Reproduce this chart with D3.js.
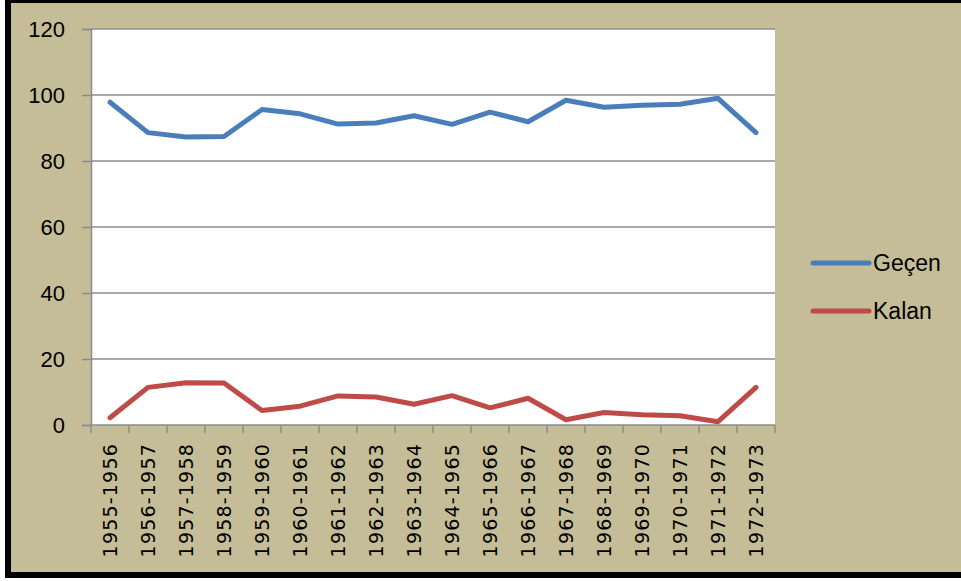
<!DOCTYPE html>
<html>
<head>
<meta charset="utf-8">
<script src="https://cdn.jsdelivr.net/npm/d3@7.9.0/dist/d3.min.js"></script>
<style>
  body { margin: 0; background: #fff; }
  svg { display: block; }
</style>
</head>
<body>
<div id="chart"></div>
<script>
const years = ['1955-1956', '1956-1957', '1957-1958', '1958-1959', '1959-1960', '1960-1961',
  '1961-1962', '1962-1963', '1963-1964', '1964-1965', '1965-1966', '1966-1967',
  '1967-1968', '1968-1969', '1969-1970', '1970-1971', '1971-1972', '1972-1973'];
const gecen = [97.8, 88.6, 87.3, 87.4, 95.6, 94.3, 91.2, 91.5, 93.7, 91.1, 94.8, 91.9, 98.4, 96.3, 96.9, 97.2, 99.0, 88.6];
const kalan = [2.2, 11.4, 12.8, 12.7, 4.4, 5.7, 8.8, 8.5, 6.3, 8.9, 5.2, 8.1, 1.6, 3.8, 3.1, 2.8, 1.0, 11.4];
const yTicks = [0, 20, 40, 60, 80, 100, 120];
const seriesNames = ['Geçen', 'Kalan'];
const colors = ['#4a7ebb', '#be4b48'];

const width = 961;
const height = 581;
const margin = { top: 29, right: 186, bottom: 156, left: 91 };

const svg = d3.select('#chart')
  .append('svg')
  .attr('width', width)
  .attr('height', height);

// frame
svg.append('rect')
  .attr('x', 5).attr('y', 0)
  .attr('width', width).attr('height', 578)
  .attr('fill', '#000');
svg.append('rect')
  .attr('x', 11).attr('y', 3)
  .attr('width', width).attr('height', 569)
  .attr('fill', '#c4bd97');

const x = d3.scaleBand()
  .domain(years)
  .range([margin.left, width - margin.right]);

const y = d3.scaleLinear()
  .domain([0, 120])
  .range([height - margin.bottom, margin.top]);

// plot area
svg.append('rect')
  .attr('x', margin.left).attr('y', margin.top)
  .attr('width', x.range()[1] - margin.left)
  .attr('height', y(0) - margin.top)
  .attr('fill', '#fff');

// gridlines
svg.append('g')
  .selectAll('line')
  .data(yTicks.filter(d => d > 0))
  .join('line')
  .attr('x1', margin.left)
  .attr('x2', x.range()[1])
  .attr('y1', d => y(d))
  .attr('y2', d => y(d))
  .attr('stroke', '#8c8c8c')
  .attr('stroke-width', 1.5);

// y axis
const yAxis = svg.append('g')
  .attr('transform', `translate(${margin.left},0)`)
  .call(d3.axisLeft(y).tickValues(yTicks).tickSize(9).tickPadding(17));
yAxis.select('.domain').attr('stroke', '#8c8c8c').attr('stroke-width', 1.5);
yAxis.selectAll('.tick line').attr('stroke', '#8c8c8c').attr('stroke-width', 1.5);
yAxis.selectAll('.tick text')
  .attr('font-family', '"Liberation Sans", Arial, sans-serif')
  .attr('font-size', 22)
  .attr('fill', '#000');

// x axis: ticks at category boundaries
const xAxis = svg.append('g')
  .attr('transform', `translate(0,${y(0)})`);
xAxis.append('line')
  .attr('x1', margin.left).attr('x2', x.range()[1])
  .attr('stroke', '#8c8c8c').attr('stroke-width', 1.5);
xAxis.selectAll('line.tk')
  .data(years.concat(['end']))
  .join('line')
  .attr('class', 'tk')
  .attr('x1', (d, i) => i < years.length ? x(d) : x.range()[1])
  .attr('x2', (d, i) => i < years.length ? x(d) : x.range()[1])
  .attr('y1', 0).attr('y2', 8)
  .attr('stroke', '#8c8c8c').attr('stroke-width', 1.5);
xAxis.selectAll('text')
  .data(years)
  .join('text')
  .attr('transform', d => `translate(${x(d) + x.bandwidth() / 2 + 7},18) rotate(-90)`)
  .attr('text-anchor', 'end')
  .attr('font-family', '"DejaVu Sans", sans-serif')
  .attr('font-size', 19)
  .attr('letter-spacing', 1.2)
  .attr('fill', '#000')
  .text(d => d);

// lines
const line = d3.line()
  .x((d, i) => x(years[i]) + x.bandwidth() / 2)
  .y(d => y(d));

[gecen, kalan].forEach((vals, k) => {
  svg.append('path')
    .datum(vals)
    .attr('fill', 'none')
    .attr('stroke', colors[k])
    .attr('stroke-width', 5)
    .attr('stroke-linejoin', 'round')
    .attr('stroke-linecap', 'round')
    .attr('d', line);
});

// legend
const legend = svg.append('g')
  .selectAll('g')
  .data(seriesNames)
  .join('g')
  .attr('transform', (d, i) => `translate(813,${263 + i * 48})`);
legend.append('line')
  .attr('x1', 0).attr('x2', 56)
  .attr('stroke', (d, i) => colors[i])
  .attr('stroke-width', 5)
  .attr('stroke-linecap', 'round');
legend.append('text')
  .attr('x', 60)
  .attr('dy', '0.35em')
  .attr('font-family', '"Liberation Sans", Arial, sans-serif')
  .attr('font-size', 23)
  .attr('fill', '#000')
  .text(d => d);
</script>
</body>
</html>
